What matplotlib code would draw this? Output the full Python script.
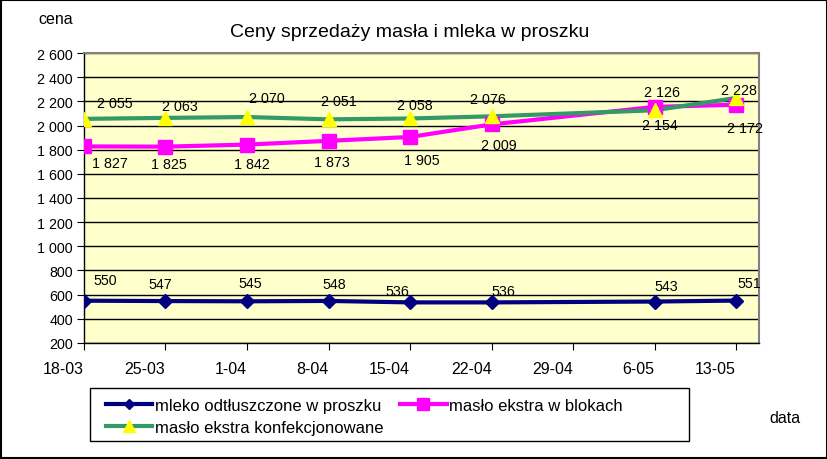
import matplotlib
matplotlib.use("Agg")
import matplotlib.pyplot as plt
from matplotlib.lines import Line2D
from matplotlib.patches import Rectangle
import numpy as np

plt.rcParams['font.family'] = ['Liberation Sans', 'DejaVu Sans']

dates = ["18-03", "25-03", "1-04", "8-04", "15-04", "22-04", "29-04", "6-05", "13-05"]
mleko = [550, 547, 545, 548, 536, 536, None, 543, 551]
maslo_bloki = [1827, 1825, 1842, 1873, 1905, 2009, None, 2154, 2172]
maslo_konf = [2055, 2063, 2070, 2051, 2058, 2076, None, 2126, 2228]

# label offsets in pixels (dx, dy), only layout
off_mleko = [(21, 21), (-5, 17), (3, 18), (6, 17), (-13, 11), (12, 11), (12, 16), (13, 18)]
off_bloki = [(26, -17), (3, -17), (5, -19), (3, -21), (12, -23), (7, -21), (5, -18), (9, -23)]
off_konf = [(31, 16), (14, 12), (20, 19), (10, 18), (5, 13), (-4, 17), (7, 18), (3, 8)]


def fmt(v):
    return f"{v:,}".replace(",", " ")


fig = plt.figure(figsize=(8.28, 4.6), dpi=100)
ax = fig.add_axes([0.1014, 0.2522, 0.8152, 0.6304])
ax.set_facecolor("#FFFFCC")

series = [
    (mleko, "mleko odtłuszczone w proszku", "#000080", "D", 7, "#000080", off_mleko),
    (maslo_bloki, "masło ekstra w blokach", "#FF00FF", "s", 10, "#FF00FF", off_bloki),
    (maslo_konf, "masło ekstra konfekcjonowane", "#339966", "^", 10, "#FFFF00", off_konf),
]

handles = []
for vals, name, col, mk, ms, mcol, offs in series:
    xs = np.array([i for i, v in enumerate(vals) if v is not None])
    ys = np.array([v for v in vals if v is not None])
    ax.plot(xs, ys, color=col, lw=3, zorder=3)
    ax.plot(xs, ys, ls="none", marker=mk, ms=ms, mfc=mcol, mec=mcol, zorder=4)
    for x, y, (dx, dy) in zip(xs, ys, offs):
        ax.annotate(fmt(int(y)), (x, y), xytext=(dx, dy), textcoords="offset pixels",
                    ha="center", va="center", fontsize=10.3, zorder=5)
    handles.append(Line2D([], [], color=col, lw=3, marker=mk, ms=ms * 0.8, mfc=mcol, mec=mcol))

ax.set_ylim(200, 2600)
ax.set_yticks(range(200, 2601, 200))
ax.set_yticklabels([fmt(v) for v in range(200, 2601, 200)], fontsize=10.3)
ax.set_xlim(0, 8.28)
ax.set_xticks(range(len(dates)))
ax.set_xticklabels(dates, fontsize=11.5, ha="right")
ax.tick_params(axis="x", length=5, pad=8, direction="out")
ax.tick_params(axis="y", length=5, pad=3, direction="out")
ax.yaxis.grid(True, color="black", lw=1)
ax.set_axisbelow(True)
for s in ["top", "right"]:
    ax.spines[s].set_color("#808080")
    ax.spines[s].set_linewidth(1.5)
for s in ["left", "bottom"]:
    ax.spines[s].set_color("black")
    ax.spines[s].set_linewidth(1)

fig.text(0.495, 0.93, "Ceny sprzedaży masła i mleka w proszku", ha="center", va="center", fontsize=14)
fig.text(0.067, 0.957, "cena", ha="center", va="center", fontsize=11.5)
fig.text(0.948, 0.09, "data", ha="center", va="center", fontsize=11.5)

# legend box
fig.patches.append(Rectangle((90 / 828, 1 - 442 / 460), 599 / 828, 53 / 460, transform=fig.transFigure,
                             fill=False, ec="black", lw=1))
order = [handles[0], handles[2], handles[1]]
labels = [series[0][1], series[2][1], series[1][1]]
fig.legend(order, labels, ncol=2, frameon=False, fontsize=12, loc="upper left",
           bbox_to_anchor=(94 / 828, 1 - 387 / 460), handlelength=2.8, handletextpad=0.15,
           columnspacing=1.0, labelspacing=0.45, borderpad=0.2)

# outer border
fig.patches.append(Rectangle((0.001, 0.002), 0.998, 0.996, transform=fig.transFigure,
                             fill=False, ec="black", lw=1.5))

fig.savefig("out.png", dpi=100)
